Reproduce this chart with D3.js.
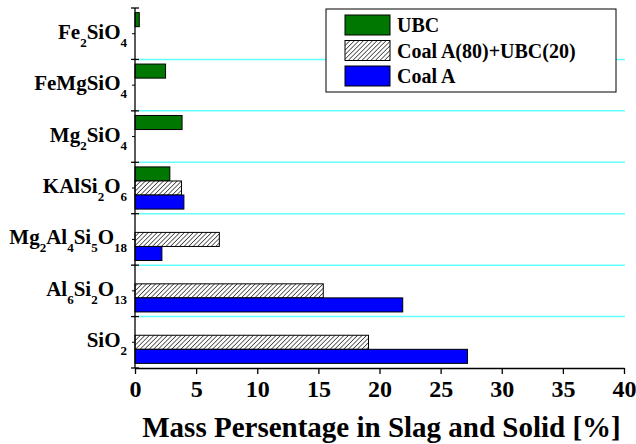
<!DOCTYPE html>
<html>
<head>
<meta charset="utf-8">
<script src="https://d3js.org/d3.v7.min.js"></script>
</head>
<body style="margin:0">

<script>

// compounds, top to bottom (digits are drawn as subscripts)
var compounds = ["Fe2SiO4", "FeMgSiO4", "Mg2SiO4", "KAlSi2O6", "Mg2Al4Si5O18", "Al6Si2O13", "SiO2"];

var seriesNames = ["UBC", "Coal A(80)+UBC(20)", "Coal A"];

// mass percentage, null = no bar
var ubc   = [0.35, 2.5, 3.85, 2.85, null, null, null];
var blend = [null, null, null, 3.8, 6.9, 15.4, 19.1];
var coalA = [null, null, null, 4.0, 2.2, 21.9, 27.2];

var xTicks = [0, 5, 10, 15, 20, 25, 30, 35, 40];

var width = 636,
	height = 444;

var margin = {top: 8, right: 12, bottom: 76, left: 135};

var FONT = '"Times New Roman", "Liberation Serif", serif';

var svg = d3.select('body').append('svg')
	.attr('width', width)
	.attr('height', height);

// hatch pattern for the blend
var defs = svg.append('defs');
var pat = defs.append('pattern')
	.attr('id', 'hatch')
	.attr('patternUnits', 'userSpaceOnUse')
	.attr('width', 3.2)
	.attr('height', 3.2)
	.attr('patternTransform', 'rotate(45)');
pat.append('rect').attr('width', 3.2).attr('height', 3.2).attr('fill', '#fff');
pat.append('line')
	.attr('x1', 0).attr('y1', 0).attr('x2', 0).attr('y2', 3.2)
	.attr('stroke', '#000').attr('stroke-width', 1.2);

var fills = {"UBC": "#007700", "Coal A(80)+UBC(20)": "url(#hatch)", "Coal A": "#0000ff"};

var x = d3.scaleLinear()
	.domain([0, 40])
	.range([margin.left, width - margin.right]);

var y = d3.scaleBand()
	.domain(compounds)
	.range([margin.top, height - margin.bottom])
	.paddingInner(0.18)
	.paddingOuter(0.09);

var ySub = d3.scaleBand()
	.domain(seriesNames)
	.range([0, y.bandwidth()]);

var step = y.step();
var y0 = margin.top, y1 = height - margin.bottom;

// gridlines between categories
svg.append('g')
	.selectAll('line')
	.data(d3.range(1, compounds.length))
	.enter().append('line')
	.attr('x1', x(0) + 4)
	.attr('x2', x(40) + 1)
	.attr('y1', function(i) { return y0 + i * step; })
	.attr('y2', function(i) { return y0 + i * step; })
	.attr('stroke', '#66ffff')
	.attr('stroke-width', 1.5);

// bars
var rows = [];
compounds.forEach(function(c, i) {
	[ubc, blend, coalA].forEach(function(arr, j) {
		if (arr[i] != null) rows.push({compound: c, series: seriesNames[j], value: arr[i]});
	});
});

svg.selectAll('.bar')
	.data(rows)
	.enter().append('rect').attr('class', 'bar')
	.attr('x', x(0))
	.attr('y', function(d) { return y(d.compound) + ySub(d.series); })
	.attr('width', function(d) { return x(d.value) - x(0); })
	.attr('height', ySub.bandwidth())
	.attr('fill', function(d) { return fills[d.series]; })
	.attr('stroke', '#000')
	.attr('stroke-width', 1);

// x axis
var xAxis = d3.axisBottom(x)
	.tickValues(xTicks)
	.tickSize(6)
	.tickSizeOuter(0);

var gx = svg.append('g')
	.attr('transform', 'translate(0,' + y1 + ')')
	.call(xAxis);
gx.attr('font-family', null).attr('font-size', null);
gx.select('.domain').attr('stroke', '#000').attr('stroke-width', 1.3);
gx.selectAll('.tick line').attr('stroke', '#000').attr('stroke-width', 1.3);
gx.selectAll('.tick text')
	.attr('y', 29)
	.attr('dy', 0)
	.attr('fill', '#000')
	.style('font', 'bold 24px ' + FONT);

// y axis line + ticks
svg.append('line')
	.attr('x1', x(0)).attr('x2', x(0))
	.attr('y1', y0).attr('y2', y1)
	.attr('stroke', '#000').attr('stroke-width', 1.3);

svg.selectAll('.ymajor')
	.data(d3.range(0, compounds.length + 1))
	.enter().append('line')
	.attr('x1', x(0) - 4).attr('x2', x(0) + 4)
	.attr('y1', function(i) { return y0 + i * step; })
	.attr('y2', function(i) { return y0 + i * step; })
	.attr('stroke', '#000').attr('stroke-width', 1.3);

svg.selectAll('.yminor')
	.data(compounds)
	.enter().append('line')
	.attr('x1', x(0) - 3).attr('x2', x(0))
	.attr('y1', function(d) { return y(d) + y.bandwidth() / 2; })
	.attr('y2', function(d) { return y(d) + y.bandwidth() / 2; })
	.attr('stroke', '#000').attr('stroke-width', 1);

// category labels with subscripts
svg.selectAll('.clabel')
	.data(compounds)
	.enter().append('text')
	.attr('class', 'clabel')
	.attr('text-anchor', 'end')
	.attr('x', x(0) - 8)
	.attr('y', function(d) { return y(d) + y.bandwidth() / 2 + 5; })
	.style('font', 'bold 21px ' + FONT)
	.each(function(d) {
		var t = d3.select(this);
		var parts = d.match(/\d+|\D+/g);
		var sub = false;
		parts.forEach(function(p) {
			var isNum = /\d/.test(p);
			var dy = 0;
			if (isNum && !sub) dy = 8;
			if (!isNum && sub) dy = -8;
			sub = isNum;
			t.append('tspan')
				.attr('dy', dy)
				.style('font-size', isNum ? '13px' : '21px')
				.text(p);
		});
	});

// x axis title
svg.append('text')
	.attr('x', (x(0) + x(40)) / 2 + 2)
	.attr('y', 437)
	.attr('text-anchor', 'middle')
	.style('font', 'bold 29px ' + FONT)
	.text('Mass Persentage in Slag and Solid [%]');

// legend
var lg = svg.append('g').attr('transform', 'translate(326,9)');
lg.append('rect')
	.attr('width', 290).attr('height', 83)
	.attr('fill', '#fff').attr('stroke', '#000').attr('stroke-width', 1);

var li = lg.selectAll('.li')
	.data(seriesNames)
	.enter().append('g')
	.attr('transform', function(d, i) { return 'translate(19,' + (6 + i * 25.5) + ')'; });

li.append('rect')
	.attr('width', 45).attr('height', 20)
	.attr('fill', function(d) { return fills[d]; })
	.attr('stroke', '#000').attr('stroke-width', 1);

li.append('text')
	.attr('x', 52)
	.attr('y', 17)
	.style('font', 'bold 20px ' + FONT)
	.text(function(d) { return d; });

</script>

</body>
</html>
